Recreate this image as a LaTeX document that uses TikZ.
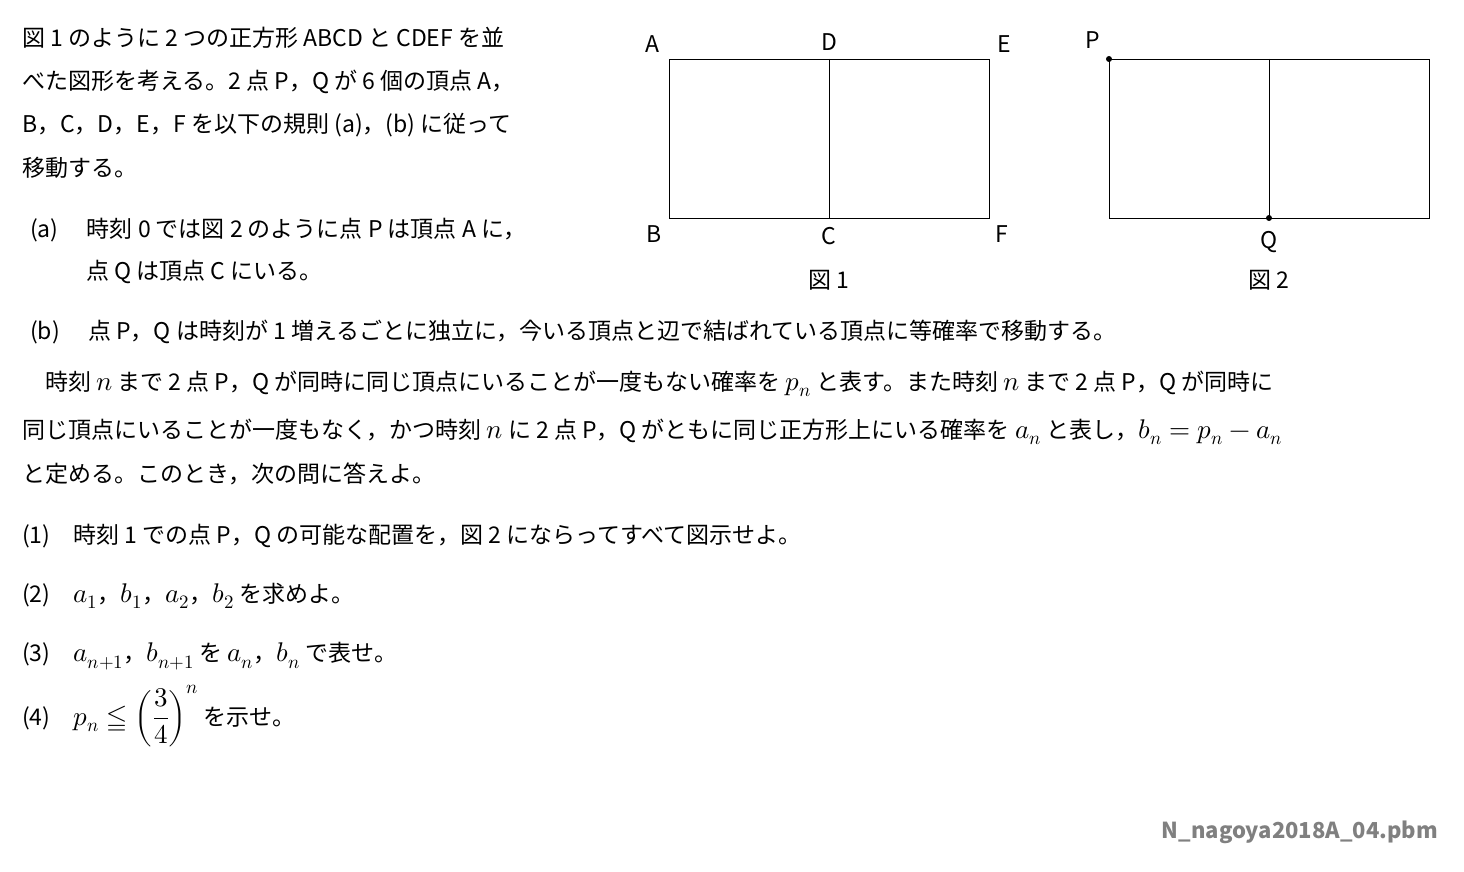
\documentclass[tikz,border=0pt]{standalone}
\usepackage{amsmath}
\usepackage{unicode-math}
\setmainfont{Noto Sans CJK JP}
\setmathfont{Latin Modern Math}
\newcommand{\M}[1]{{\fontsize{27}{30}\selectfont$#1$}}
\begin{document}
\begin{tikzpicture}[x=1pt,y=-1pt,
  t/.style={anchor=west,inner sep=0pt,font=\fontsize{23}{26}\selectfont},
  lab/.style={inner sep=0pt,font=\fontsize{23}{26}\selectfont},
  dotp/.style={circle,fill=black,inner sep=0pt,minimum size=6pt}]
\useasboundingbox (0,0) rectangle (1464,872);
\node[t] (l1) at (22,38) {図 1 のように 2 つの正方形 ABCD と CDEF を並};
\node[t] (l2) at (22,82) {べた図形を考える。2 点 P，Q が 6 個の頂点 A，};
\node[t] (l3) at (22,125) {B，C，D，E，F を以下の規則 (a)，(b) に従って};
\node[t] (l4) at (22,168) {移動する。};
\node[t] (la1) at (30,230) {(a)\quad\ 時刻 0 では図 2 のように点 P は頂点 A に，};
\node[t] (la2) at (86,272) {点 Q は頂点 C にいる。};
\node[t] (lb) at (30,332) {(b)\quad\ 点 P，Q は時刻が 1 増えるごとに独立に，今いる頂点と辺で結ばれている頂点に等確率で移動する。};
\node[t] (p1) at (45,384) {時刻 \M{n} まで 2 点 P，Q が同時に同じ頂点にいることが一度もない確率を \M{p_n} と表す。また時刻 \M{n} まで 2 点 P，Q が同時に};
\node[t] (p2) at (22,432) {同じ頂点にいることが一度もなく，かつ時刻 \M{n} に 2 点 P，Q がともに同じ正方形上にいる確率を \M{a_n} と表し，\M{b_n=p_n-a_n}};
\node[t] (p3) at (22,474) {と定める。このとき，次の問に答えよ。};
\node[t] (q1) at (22,536) {(1)\quad 時刻 1 での点 P，Q の可能な配置を，図 2 にならってすべて図示せよ。};
\node[t] (q2) at (22,596) {(2)\quad \M{a_1}，\M{b_1}，\M{a_2}，\M{b_2} を求めよ。};
\node[t] (q3) at (22,656) {(3)\quad \M{a_{n+1}}，\M{b_{n+1}} を \M{a_n}，\M{b_n} で表せ。};
\node[t] (q4) at (22,716) {(4)\quad \M{p_n\leqq\left(\dfrac{3}{4}\right)^{n}} を示せ。};
\node[anchor=east,inner sep=0pt,text=gray,font=\fontsize{22}{26}\selectfont\bfseries] (ft) at (1438,832) {N\_nagoya2018A\_04.pbm};
% figure 1
\coordinate (A) at (669,59); \coordinate (D) at (829,59); \coordinate (E) at (989,59);
\coordinate (B) at (669,218); \coordinate (C) at (829,218); \coordinate (F) at (989,218);
\draw (A) -- (E) -- (F) -- (B) -- cycle; \draw (D) -- (C);
\node[lab] (nA) at (652,44) {A}; \node[lab] (nD) at (829,42) {D}; \node[lab] (nE) at (1004,44) {E};
\node[lab] (nB) at (654,234) {B}; \node[lab] (nC) at (829,236) {C}; \node[lab] (nF) at (1002,234) {F};
\node[lab] (f1) at (829,280) {図 1};
% figure 2
\coordinate (A2) at (1109,59); \coordinate (D2) at (1269,59); \coordinate (E2) at (1429,59);
\coordinate (B2) at (1109,218); \coordinate (C2) at (1269,218); \coordinate (F2) at (1429,218);
\draw (A2) -- (E2) -- (F2) -- (B2) -- cycle; \draw (D2) -- (C2);
\node[dotp] at (A2) {}; \node[dotp] at (C2) {};
\node[lab] (nP) at (1093,40) {P}; \node[lab] (nQ) at (1269,242) {Q};
\node[lab] (f2) at (1269,280) {図 2};
\end{tikzpicture}
\end{document}
